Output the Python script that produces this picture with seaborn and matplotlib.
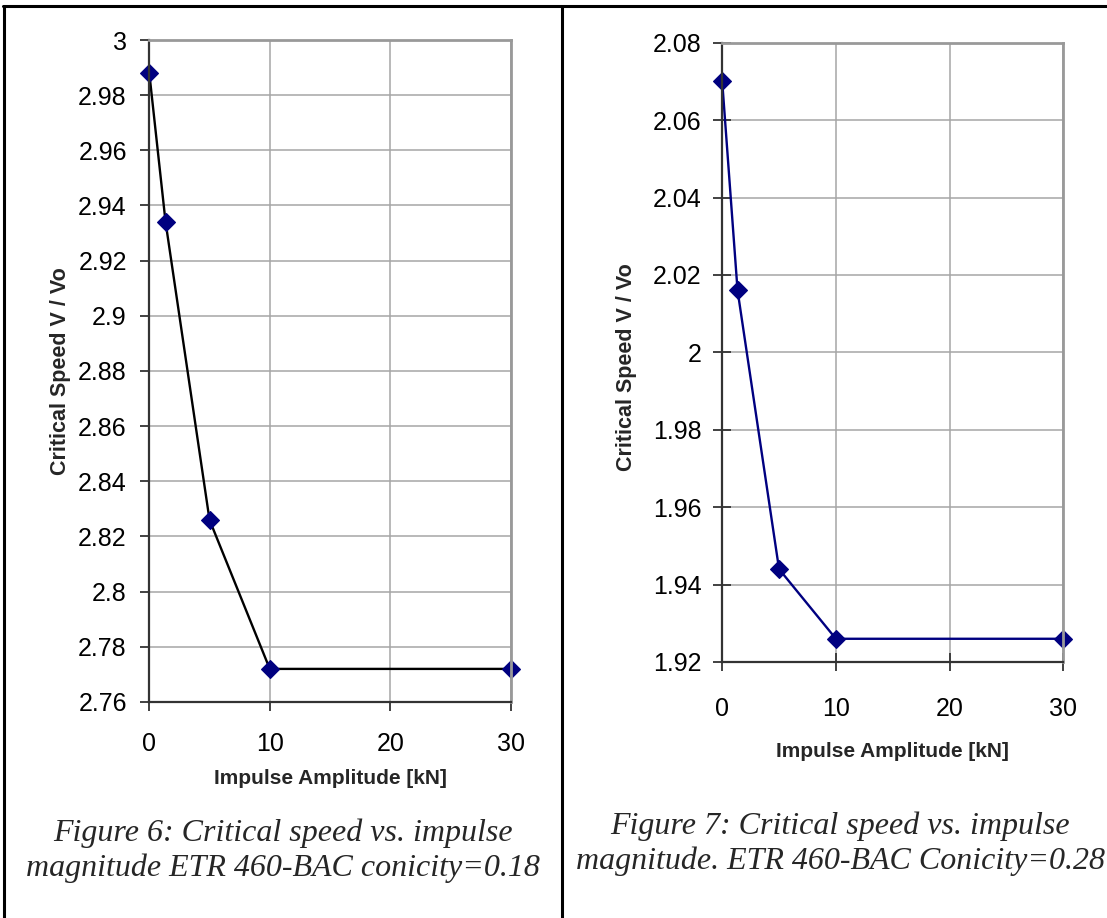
import matplotlib
matplotlib.use("Agg")
import matplotlib.pyplot as plt
from matplotlib.lines import Line2D
from matplotlib.ticker import FixedLocator, FuncFormatter
import pandas as pd
import seaborn as sns

# Impulse amplitudes [kN] and normalised critical speeds
impulse_kn = [0, 1.35, 5, 10, 30]
speed_c018 = [2.988, 2.934, 2.826, 2.772, 2.772]
speed_c028 = [2.070, 2.016, 1.944, 1.926, 1.926]

x_ticks = [0, 10, 20, 30]
y_ticks_c018 = [2.76, 2.78, 2.80, 2.82, 2.84, 2.86, 2.88, 2.90, 2.92, 2.94, 2.96, 2.98, 3.00]
y_ticks_c028 = [1.92, 1.94, 1.96, 1.98, 2.00, 2.02, 2.04, 2.06, 2.08]

x_label = "Impulse Amplitude [kN]"
y_label = "Critical Speed V / Vo"
caption_left = "Figure 6: Critical speed vs. impulse\nmagnitude ETR 460-BAC conicity=0.18"
caption_right = "Figure 7: Critical speed vs. impulse\nmagnitude. ETR 460-BAC Conicity=0.28"

sns.set_style("white")
plt.rcParams["font.family"] = ["Liberation Sans", "DejaVu Sans"]

W, H = 1107, 918
fig = plt.figure(figsize=(W / 100, H / 100), dpi=100)

TICK_FS = 18
LABEL_FS = 15


def px_axes(x0, y0, x1, y1):
    return fig.add_axes([x0 / W, 1 - y1 / H, (x1 - x0) / W, (y1 - y0) / H])


def general_fmt(v, pos):
    return f"{round(v, 4):g}"


def style_axes(ax, yticks, tickdir, xpad, ypad):
    ax.set_xlim(0, 30)
    ax.set_ylim(yticks[0], yticks[-1])
    ax.xaxis.set_major_locator(FixedLocator(x_ticks))
    ax.yaxis.set_major_locator(FixedLocator(yticks))
    ax.yaxis.set_major_formatter(FuncFormatter(general_fmt))
    ax.grid(True, color="#a6a6a6", linewidth=1.1)
    ax.set_axisbelow(True)
    for side in ("left", "bottom"):
        ax.spines[side].set_color("#333333")
        ax.spines[side].set_linewidth(1.6)
    for side in ("top", "right"):
        ax.spines[side].set_color("#999999")
        ax.spines[side].set_linewidth(2.0)
    ax.tick_params(axis="both", labelsize=TICK_FS, colors="#333333", labelcolor="black",
                   width=1.3, direction=tickdir, length=6.5 if tickdir == "out" else 12.5)
    ax.tick_params(axis="x", pad=xpad, bottom=True)
    ax.tick_params(axis="y", pad=ypad, left=True)


def label_axes(ax, xy_xlabel, xy_ylabel):
    ax.set_xlabel(x_label, fontsize=LABEL_FS, fontweight="bold")
    ax.set_ylabel(y_label, fontsize=LABEL_FS + 0.5, fontweight="bold")
    ax.xaxis.set_label_coords(*xy_xlabel)
    ax.xaxis.label.set_va("center")
    ax.yaxis.set_label_coords(*xy_ylabel)
    ax.yaxis.label.set_va("center")


df_left = pd.DataFrame({"impulse": impulse_kn, "speed": speed_c018})
df_right = pd.DataFrame({"impulse": impulse_kn, "speed": speed_c028})

marker_kw = dict(marker="D", markersize=8.8, markerfacecolor="#000080",
                 markeredgecolor="#000080", markeredgewidth=0.8)

# Left chart: conicity 0.18
ax1 = px_axes(149.3, 40, 510.7, 702)
sns.lineplot(data=df_left, x="impulse", y="speed", ax=ax1, color="black",
             linewidth=1.7, sort=False, **marker_kw)
style_axes(ax1, y_ticks_c018, "out", 15.0, 9.7)
for ln in ax1.lines:
    ln.set_clip_on(False)
label_axes(ax1, (0.5, -0.1153), (-0.247, 0.5))

# Right chart: conicity 0.28
ax2 = px_axes(722.2, 42.7, 1063.3, 662)
sns.lineplot(data=df_right, x="impulse", y="speed", ax=ax2, color="#000080",
             linewidth=1.7, sort=False, **marker_kw)
style_axes(ax2, y_ticks_c028, "inout", 19.0, 8.8)
for ln in ax2.lines:
    ln.set_clip_on(False)
label_axes(ax2, (0.5, -0.1448), (-0.281, 0.476))

# Captions below each chart
cap_kw = dict(family=["Liberation Serif", "DejaVu Serif"], style="italic",
              fontsize=23, ha="center", va="center", linespacing=1.24)
fig.text(283 / W, 1 - 850.5 / H, caption_left, **cap_kw)
fig.text(840 / W, 1 - 843.4 / H, caption_right, **cap_kw)

# Table frame around the two cells
frame_kw = dict(color="black", linewidth=2.2, transform=fig.transFigure)
fig.add_artist(Line2D([3 / W, 1], [1 - 6 / H, 1 - 6 / H], **frame_kw))
fig.add_artist(Line2D([3.8 / W, 3.8 / W], [0, 1 - 6 / H], **frame_kw))
fig.add_artist(Line2D([562 / W, 562 / W], [0, 1 - 6 / H], **frame_kw))

fig.savefig("out.png", dpi=100, facecolor="white")
